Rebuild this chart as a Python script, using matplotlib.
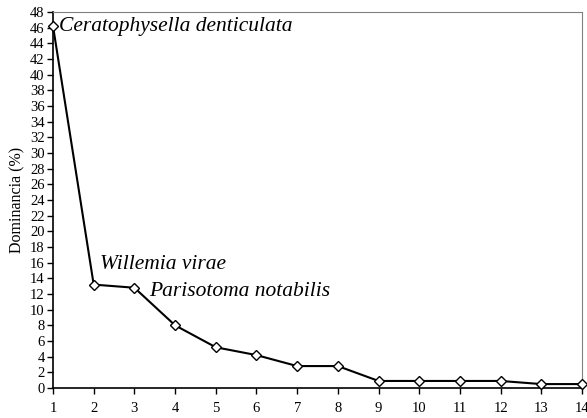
import matplotlib
matplotlib.use("Agg")
import matplotlib.pyplot as plt

ranks = list(range(1, 15))
dominance = [46.2, 13.2, 12.8, 8.0, 5.2, 4.2, 2.8, 2.8, 0.9, 0.9, 0.9, 0.9, 0.5, 0.5]
species_labels = ["Ceratophysella denticulata", "Willemia virae", "Parisotoma notabilis"]

plt.rcParams['font.family'] = ['Liberation Serif', 'DejaVu Serif']

fig = plt.figure(figsize=(5.87, 4.18), dpi=100)
ax = fig.add_axes([53/587, 1 - 388/418, (582-53)/587, (388-12)/418])

ax.plot(ranks, dominance, color='black', lw=1.5, marker='D', markersize=5.5,
        markerfacecolor='white', markeredgecolor='black', markeredgewidth=1, clip_on=False, zorder=3)

ax.set_xlim(1, 14)
ax.set_ylim(0, 48)
ax.set_xticks(ranks)
ax.set_yticks(range(0, 49, 2))
ax.tick_params(axis='both', labelsize=10.5, direction='out', length=4, width=1, color='black')
ax.tick_params(axis='x', pad=6)
ax.tick_params(axis='y', pad=2)
for s in ['top', 'right']:
    ax.spines[s].set_color('#808080')
    ax.spines[s].set_linewidth(0.8)
for s in ['left', 'bottom']:
    ax.spines[s].set_color('black')
    ax.spines[s].set_linewidth(1.2)

ax.set_ylabel("Dominancia (%)", fontsize=11.5, labelpad=3)

ax.text(1.15, dominance[0], species_labels[0], style='italic', fontsize=15.5, va='center', ha='left')
ax.text(2.15, 15.8, species_labels[1], style='italic', fontsize=15.5, va='center', ha='left')
ax.text(3.35, 12.3, species_labels[2], style='italic', fontsize=15.5, va='center', ha='left')

fig.savefig("out.png", dpi=100)
